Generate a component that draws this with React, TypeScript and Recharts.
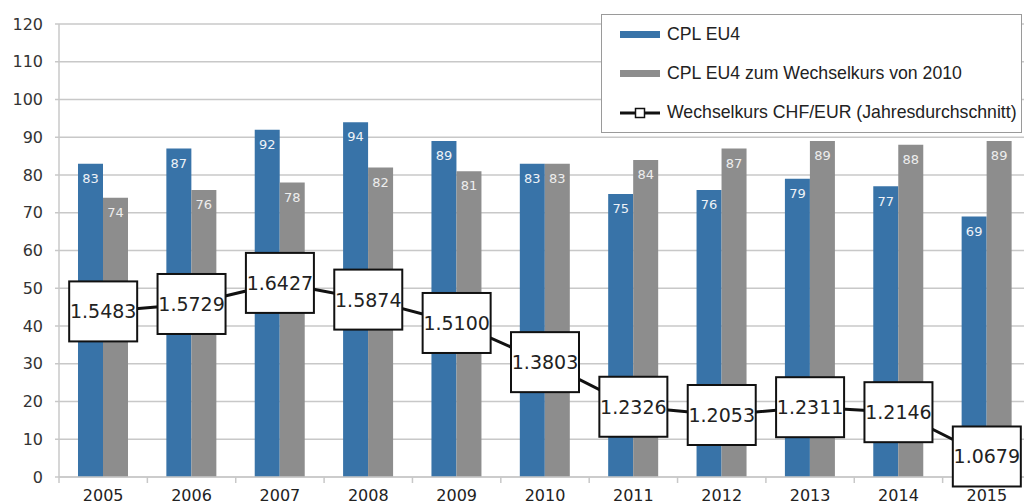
import React from 'react';
import {
  ComposedChart,
  Bar,
  Line,
  XAxis,
  YAxis,
  CartesianGrid,
  Legend,
  LabelList,
} from 'recharts';

const YEARS = ['2005', '2006', '2007', '2008', '2009', '2010', '2011', '2012', '2013', '2014', '2015'];
const CPL_EU4 = [83, 87, 92, 94, 89, 83, 75, 76, 79, 77, 69];
const CPL_EU4_2010 = [74, 76, 78, 82, 81, 83, 84, 87, 89, 88, 89];
const CHF_EUR = [1.5483, 1.5729, 1.6427, 1.5874, 1.51, 1.3803, 1.2326, 1.2053, 1.2311, 1.2146, 1.0679];
const Y_TICKS = [0, 10, 20, 30, 40, 50, 60, 70, 80, 90, 100, 110, 120];

const BLUE = '#3873a8';
const GREY = '#8d8d8d';
const GRID = '#c8c8c8';
const FONT = '"DejaVu Sans", sans-serif';
const X_LABEL_GAP = 13;

const data = YEARS.map((year, i) => ({
  year,
  cpl: CPL_EU4[i],
  cpl2010: CPL_EU4_2010[i],
  rate: CHF_EUR[i],
}));

// year label centred in the band, tick mark on the band's left edge
const YearTick = (props: any) => {
  const { x, y, payload } = props;
  const edge = x - (payload.offset || 0);
  const axisY = y - X_LABEL_GAP;
  return (
    <g>
      <line x1={edge} y1={axisY} x2={edge} y2={axisY + 6} stroke={GRID} strokeWidth={1.5} />
      <text x={x} y={y} dy="0.71em" textAnchor="middle" fontSize={16} fill="#222" fontFamily={FONT}>
        {payload.value}
      </text>
    </g>
  );
};

const RateBox = (props: any) => {
  const { cx, cy, payload, index } = props;
  if (cx == null || cy == null) return null;
  return (
    <g key={`box-${index}`}>
      <rect x={cx - 34} y={cy - 30} width={68} height={60} fill="#fff" stroke="#111" strokeWidth={2} />
      <text
        x={cx}
        y={cy}
        textAnchor="middle"
        dominantBaseline="central"
        fontSize={19}
        fontFamily={FONT}
        fill="#222"
      >
        {payload.rate.toFixed(4)}
      </text>
    </g>
  );
};

const LegendBox = () => {
  const row: React.CSSProperties = { display: 'flex', alignItems: 'center', height: 39.5 };
  const text: React.CSSProperties = { marginLeft: 7, fontSize: 17.7, color: '#222', fontFamily: '"Liberation Sans", Arial, sans-serif' };
  return (
    <div
      style={{
        width: 421,
        height: 119,
        boxSizing: 'border-box',
        border: '1px solid #9a9a9a',
        background: '#fff',
        padding: '0 0 0 18px',
        display: 'flex',
        flexDirection: 'column',
        justifyContent: 'center',
      }}
    >
      <div style={row}>
        <div style={{ width: 40, height: 7, background: BLUE }} />
        <span style={text}>CPL EU4</span>
      </div>
      <div style={row}>
        <div style={{ width: 40, height: 7, background: GREY }} />
        <span style={text}>CPL EU4 zum Wechselkurs von 2010</span>
      </div>
      <div style={row}>
        <svg width={40} height={12}>
          <line x1={0} y1={6} x2={40} y2={6} stroke="#111" strokeWidth={3} />
          <rect x={15.5} y={1.5} width={9} height={9} fill="#fff" stroke="#111" strokeWidth={1.5} />
        </svg>
        <span style={text}>Wechselkurs CHF/EUR (Jahresdurchschnitt)</span>
      </div>
    </div>
  );
};

export default function App() {
  return (
    <div style={{ position: 'absolute', left: 0, top: 0, width: 1024, height: 504, overflow: 'hidden', background: '#fff' }}>
      <ComposedChart
        width={1040}
        height={504}
        data={data}
        margin={{ top: 24, right: 9, bottom: 0, left: 0 }}
        barCategoryGap="21.5%"
        barGap={0}
      >
        <CartesianGrid vertical={false} stroke={GRID} strokeWidth={1.5} />
        <XAxis
          dataKey="year"
          height={27}
          tickLine={false}
          tickSize={0}
          tickMargin={X_LABEL_GAP}
          axisLine={{ stroke: GRID, strokeWidth: 1.5 }}
          tick={<YearTick />}
          interval={0}
        />
        <YAxis
          domain={[0, 120]}
          ticks={Y_TICKS}
          width={59}
          tickSize={4}
          tickMargin={12}
          tickLine={{ stroke: GRID, strokeWidth: 1.5 }}
          axisLine={{ stroke: GRID, strokeWidth: 1.5 }}
          tick={{ fontSize: 16, fill: '#333', fontFamily: FONT }}
        />
        <YAxis yAxisId="rate" orientation="right" domain={[1, 2.5]} hide />
        <Legend
          layout="vertical"
          align="center"
          verticalAlign="middle"
          content={<LegendBox />}
          wrapperStyle={{ left: 601, top: 14, width: 421 }}
        />
        <Bar dataKey="cpl" name="CPL EU4" fill={BLUE} isAnimationActive={false}>
          <LabelList dataKey="cpl" position="insideTop" offset={10} fill="#eef2f7" fontSize={13} fontFamily={FONT} />
        </Bar>
        <Bar dataKey="cpl2010" name="CPL EU4 zum Wechselkurs von 2010" fill={GREY} isAnimationActive={false}>
          <LabelList dataKey="cpl2010" position="insideTop" offset={10} fill="#eeeeee" fontSize={13} fontFamily={FONT} />
        </Bar>
        <Line
          yAxisId="rate"
          dataKey="rate"
          name="Wechselkurs CHF/EUR (Jahresdurchschnitt)"
          stroke="#111"
          strokeWidth={3}
          dot={RateBox}
          activeDot={false}
          isAnimationActive={false}
        />
      </ComposedChart>
    </div>
  );
}
